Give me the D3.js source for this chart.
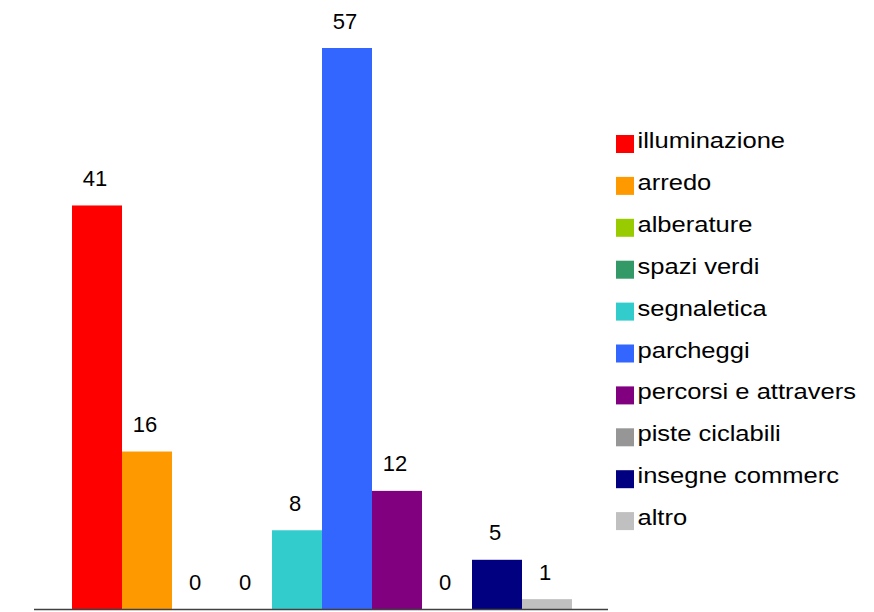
<!DOCTYPE html>
<html>
<head>
<meta charset="utf-8">
<script src="https://cdn.jsdelivr.net/npm/d3@7"></script>
<style>
  body { margin: 0; background: #fff; }
  svg { display: block; font-family: "Liberation Sans", Arial, sans-serif; }
</style>
</head>
<body>
<svg width="874" height="612"></svg>
<script>
// dati
var categorie = ["illuminazione", "arredo", "alberature", "spazi verdi", "segnaletica",
                 "parcheggi", "percorsi e attravers", "piste ciclabili", "insegne commerc", "altro"];
var valori = [41, 16, 0, 0, 8, 57, 12, 0, 5, 1];
var colori = ["#ff0000", "#ff9900", "#99cc00", "#339966", "#33cccc",
              "#3366ff", "#800080", "#969696", "#000080", "#c0c0c0"];

var svg = d3.select("svg");

var base = 609;

// scale
var x = d3.scaleBand().domain(categorie).range([72, 572]).padding(0),
    y = d3.scaleLinear().domain([0, 57]).range([base, 48]);

// barre
svg.selectAll(".bar")
  .data(valori)
  .enter().append("rect")
    .attr("class", "bar")
    .attr("x", function(d, i) { return x(categorie[i]); })
    .attr("y", function(d) { return y(d); })
    .attr("width", x.bandwidth())
    .attr("height", function(d) { return base - y(d); })
    .style("fill", function(d, i) { return colori[i]; });

// etichette dei valori
svg.selectAll(".label")
  .data(valori)
  .enter().append("text")
    .attr("class", "label")
    .attr("x", function(d, i) { return x(categorie[i]) + x.bandwidth() / 2 - 2; })
    .attr("y", function(d) { return y(d) - 19.5; })
    .attr("text-anchor", "middle")
    .style("font-size", "22px")
    .style("fill", "#000")
    .text(function(d) { return d; });

// asse x (solo la linea)
svg.append("line")
  .attr("x1", 34).attr("x2", 608)
  .attr("y1", base + 0.5).attr("y2", base + 0.5)
  .style("stroke", "#404040")
  .style("stroke-width", 1.4);

// legenda
var legenda = svg.selectAll(".legend")
  .data(categorie)
  .enter().append("g")
    .attr("class", "legend")
    .attr("transform", function(d, i) { return "translate(616," + (135 + i * 41.9) + ")"; });

legenda.append("rect")
  .attr("width", 18)
  .attr("height", 18)
  .style("fill", function(d, i) { return colori[i]; });

legenda.append("text")
  .attr("x", 21.5)
  .attr("y", 13)
  .style("font-size", "22px")
  .style("fill", "#000")
  .text(function(d) { return d; })
  .each(function() {
    // il testo della legenda è più largo del normale
    var w = this.getComputedTextLength();
    d3.select(this)
      .attr("textLength", w * 1.16)
      .attr("lengthAdjust", "spacingAndGlyphs");
  });
</script>
</body>
</html>
